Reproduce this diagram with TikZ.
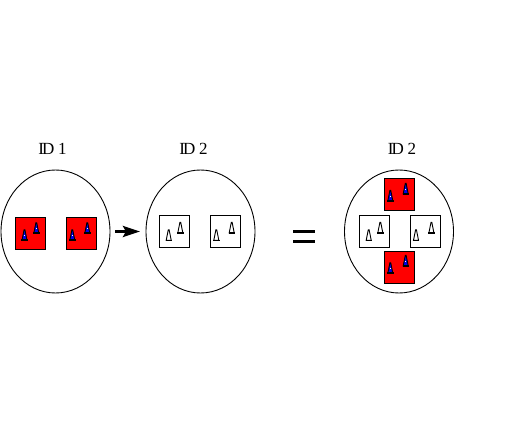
\documentclass[tikz,border=0pt]{standalone}
\usepackage{fontspec}
\setmainfont{Liberation Serif}
\usetikzlibrary{shapes.geometric,arrows.meta}
\definecolor{boxred}{RGB}{255,0,0}
\definecolor{coneblue}{RGB}{0,0,235}
\tikzset{
  cell/.style={ellipse,draw,line width=0.9pt,inner sep=0pt,minimum width=109pt,minimum height=123pt},
  redbox/.style={draw,line width=1pt,fill=boxred,inner sep=0pt,minimum width=30pt,minimum height=32pt},
  whitebox/.style={draw,line width=1pt,fill=white,inner sep=0pt,minimum width=30pt,minimum height=32pt},
  idlabel/.style={font=\fontsize{17}{18}\selectfont,inner sep=0pt},
  bluecone/.pic={
    \draw[line width=0.9pt,fill=coneblue] (-2.5,0.5) -- (-0.4,11) -- (0.4,11) -- (2.5,0.5) -- cycle;
    \draw[line width=1.5pt] (-3.2,0.5) -- (3.2,0.5);
    \fill[white] (-0.6,4.4) rectangle (0.6,5.6);
  },
  whitecone/.pic={
    \draw[line width=0.9pt,fill=white] (-2.5,0.5) -- (-0.4,11) -- (0.4,11) -- (2.5,0.5) -- cycle;
    \draw[line width=1.4pt] (-3.2,0.5) -- (3.2,0.5);
  }
}
\begin{document}
\begin{tikzpicture}[x=1pt,y=1pt]
\useasboundingbox (0,0) rectangle (510,434);

\node[cell] (cell1) at (55.5,202.5) {};
\node[cell] (cell2) at (200.5,202.5) {};
\node[cell] (cell3) at (399,202.5) {};

\node[idlabel] (id1) at (52.5,285.5) {I\kern-2pt D\kern-0.5pt\ 1};
\node[idlabel] (id2) at (193.5,285.5) {I\kern-2pt D\kern-0.5pt\ 2};
\node[idlabel] (id3) at (402,285.5) {I\kern-2pt D\kern-0.5pt\ 2};

% red boxes
\node[redbox] (red1) at (30.5,201) {};
\node[redbox] (red2) at (81,201) {};
\node[redbox] (red3) at (399.5,239.7) {};
\node[redbox] (red4) at (399.5,166.7) {};
% white boxes
\node[whitebox] (white1) at (174.5,202.7) {};
\node[whitebox] (white2) at (225.3,202.7) {};
\node[whitebox] (white3) at (374.5,202.7) {};
\node[whitebox] (white4) at (425,202.7) {};

\foreach \bx/\xa/\ya/\xb/\yb in {red1/-6/-7.7/5.8/-0.7,red2/-8.7/-7.7/6.3/-0.7,red3/-9.2/-7/6.2/0,red4/-9.2/-6.4/6.2/1}{
  \pic at ([shift={(\xa,\ya)}]\bx.center) {bluecone};
  \pic at ([shift={(\xb,\yb)}]\bx.center) {bluecone};
}
\foreach \bx/\xa/\xb in {white1/-5.8/5.8,white2/-9/6.4,white3/-5.8/5.8,white4/-9/6.4}{
  \pic at ([shift={(\xa,-9.4)}]\bx.center) {whitecone};
  \pic at ([shift={(\xb,-2)}]\bx.center) {whitecone};
}

% arrow between the cells
\coordinate (from) at (115,202.5);
\coordinate (to) at (140,202.5);
\draw[line width=3.2pt,-{Stealth[length=17pt,width=11pt,inset=3pt]}] (from) -- (to);

% equals sign
\fill (293,200.7) rectangle (315,204);
\fill (293,190.7) rectangle (315,194);
\end{tikzpicture}
\end{document}
